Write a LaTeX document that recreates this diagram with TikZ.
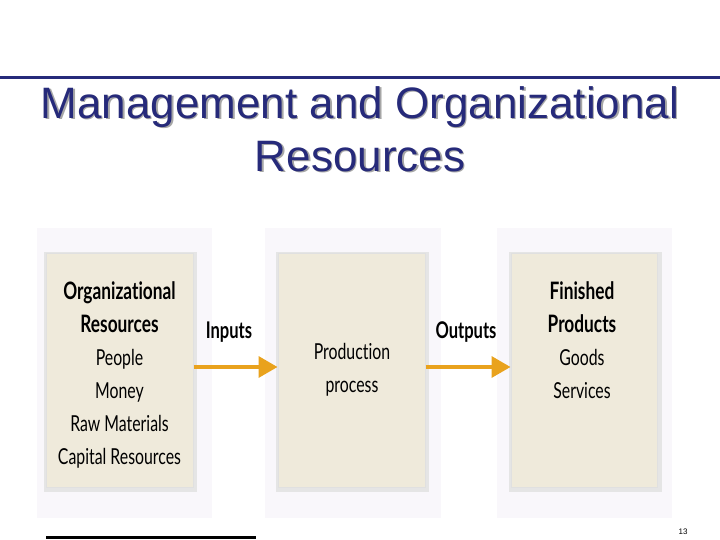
\documentclass[tikz,border=0pt]{standalone}
\usepackage{fontspec}
\setmainfont{Liberation Sans}
\newfontfamily\gill[FakeStretch=0.72,Ligatures=NoCommon]{Lato}
\usetikzlibrary{arrows.meta}
\definecolor{navy}{HTML}{262A7A}
\definecolor{beige}{HTML}{EFEADB}
\definecolor{panel}{HTML}{F9F7FB}
\definecolor{arrorange}{HTML}{E9A21D}
\tikzset{
  panelbox/.style={fill=panel, draw=none},
  box/.style={fill=beige, draw=black!12, line width=1pt, minimum width=147pt, minimum height=234pt, inner sep=0pt},
  shadowbox/.style={fill=black!10, draw=none, minimum width=153pt, minimum height=240pt},
  boxtext/.style={font=\gill\fontsize{22}{33}\selectfont, align=center, text=black, inner sep=0pt},
  arrlabel/.style={font=\gill\bfseries\fontsize{23}{26}\selectfont, text=black, inner sep=0pt},
  arr/.style={draw=arrorange, line width=3.5pt, -{Triangle[length=19pt,width=21pt]}},
  titletext/.style={font=\fontsize{44}{53}\selectfont, align=center, inner sep=0pt}
}
\newcommand{\bigb}[1]{{\bfseries\fontsize{24}{33}\selectfont #1}}
\begin{document}
\begin{tikzpicture}[x=1pt,y=-1pt]
\useasboundingbox (0,0) rectangle (720,540);
\fill[white] (0,0) rectangle (720,540);
% top rule
\draw[navy, line width=3pt] (0,78) -- (720,78);
% title
\node[titletext, text=black!35] at (361.5,130.5) {Management and Organizational\\Resources};
\node[titletext, text=navy] (title) at (360,129) {Management and Organizational\\Resources};
% panels
\fill[panelbox] (37,228) rectangle (212,518);
\fill[panelbox] (265,228) rectangle (441,518);
\fill[panelbox] (497,228) rectangle (672,518);
% shadows
\node[shadowbox] at (120.5,372) {};
\node[shadowbox] at (352.5,372) {};
\node[shadowbox] at (585,372) {};
% boxes
\node[box] (b1) at (119.5,370) {};
\node[box] (b2) at (351.5,370) {};
\node[box, minimum width=146pt] (b3) at (584,370) {};
% box texts
\node[boxtext, anchor=north] (t1) at (119.5,281) {\bigb{Organizational}\\\bigb{Resources}\\People\\Money\\Raw Materials\\Capital Resources};
\node[boxtext, anchor=north] (t2) at (352,343) {Production\\process};
\node[boxtext, anchor=north] (t3) at (582,281) {\bigb{Finished}\\\bigb{Products}\\Goods\\Services};
% arrows
\draw[arr] ([yshift=3pt]b1.east) -- ([yshift=3pt]b2.west);
\draw[arr] ([yshift=3pt]b2.east) -- ([yshift=3pt]b3.west);
\node[arrlabel] (lin) at (229,332) {Inputs};
\node[arrlabel] (lout) at (466,332) {Outputs};
% footer
\draw[black, line width=3pt] (46,537.5) -- (256,537.5);
\node[font=\fontsize{8}{9}\selectfont, inner sep=0pt] (pg) at (683,532) {13};
\end{tikzpicture}
\end{document}
